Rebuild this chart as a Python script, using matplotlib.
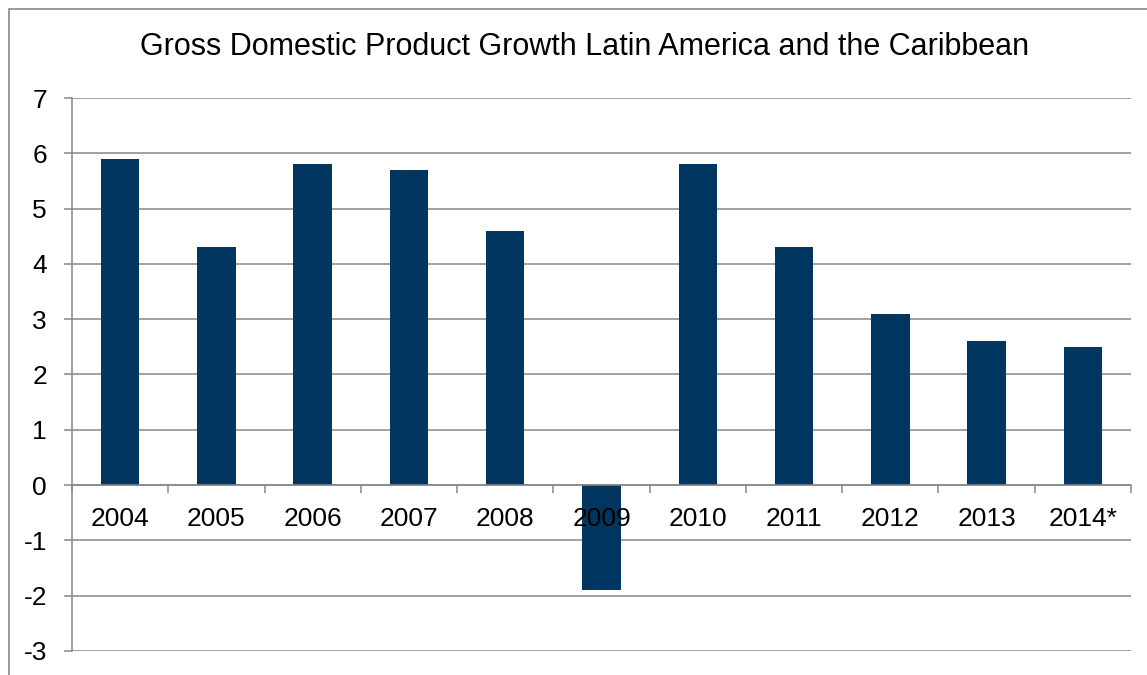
import numpy as np
import matplotlib
matplotlib.use("Agg")
import matplotlib.pyplot as plt
from matplotlib.patches import Rectangle
from matplotlib.ticker import FixedLocator

years = ["2004", "2005", "2006", "2007", "2008", "2009", "2010", "2011", "2012", "2013", "2014*"]
growth = [5.9, 4.3, 5.8, 5.7, 4.6, -1.9, 5.8, 4.3, 3.1, 2.6, 2.5]
y_ticks = [-3, -2, -1, 0, 1, 2, 3, 4, 5, 6, 7]

bar_color = "#00365f"
line_color = "#888888"

plt.rcParams["font.family"] = ["Liberation Sans", "DejaVu Sans"]

fig = plt.figure(figsize=(11.47, 6.75), dpi=100)
W, H = 1147, 675
ax = fig.add_axes([72 / W, 1 - 651 / H, (1131 - 72) / W, (651 - 98) / H])

x = np.arange(len(years))
ax.bar(x, growth, width=0.4, color=bar_color, zorder=1)

# gridlines behind the bars
for v in y_ticks:
    ax.axhline(v, color=line_color, lw=1.1, zorder=0.5)

ax.set_xlim(-0.5, len(years) - 0.5)
ax.set_ylim(-3, 7)
ax.set_yticks(y_ticks)
ax.set_yticklabels([str(v) for v in y_ticks])

# category axis sits on the zero line, labels drawn over the bars
ax.spines["bottom"].set_position(("data", 0))
ax.set_xticks(x)
ax.set_xticklabels(years)
ax.xaxis.set_minor_locator(FixedLocator(np.arange(-0.5, len(years), 1.0)))
ax.tick_params(axis="x", which="major", length=0, pad=16, labelsize=19)
ax.tick_params(axis="x", which="minor", length=6, width=1.1, color=line_color)
ax.tick_params(axis="y", length=6, width=1.1, color=line_color, pad=12, labelsize=19)
ax.xaxis.set_zorder(3)

for s in ["top", "right"]:
    ax.spines[s].set_visible(False)
ax.spines["left"].set_color(line_color)
ax.spines["left"].set_linewidth(1.1)
ax.spines["bottom"].set_color(line_color)
ax.spines["bottom"].set_linewidth(1.1)

fig.text(585 / W, 1 - 47 / H, "Gross Domestic Product Growth Latin America and the Caribbean",
         ha="center", va="center", fontsize=22)

# outer chart border, cut off at right and bottom like the source
fig.add_artist(Rectangle((9 / W, -0.1), 1.2, 1 - 9 / H + 0.1, transform=fig.transFigure,
                         fill=False, edgecolor=line_color, lw=1.2))

fig.savefig("out.png", dpi=100)
